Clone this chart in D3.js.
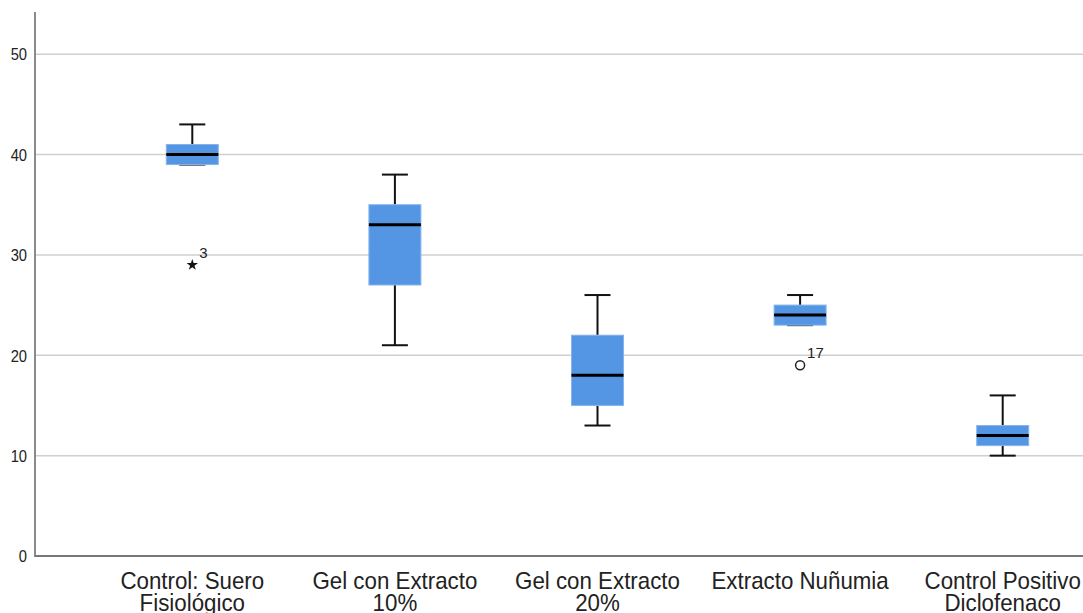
<!DOCTYPE html>
<html>
<head>
<meta charset="utf-8">
<script src="https://cdn.jsdelivr.net/npm/d3@7"></script>
<style>
  html, body { margin: 0; padding: 0; background: #fff; }
  svg { display: block; }
</style>
</head>
<body>
<svg id="chart" width="1083" height="613"></svg>
<script>
// Group names (two-line labels)
const categories = [
  ["Control: Suero", "Fisiológico"],
  ["Gel con Extracto", "10%"],
  ["Gel con Extracto", "20%"],
  ["Extracto Nuñumia"],
  ["Control Positivo", "Diclofenaco"]
];
// Five-number summaries per group
const whiskerLow  = [39, 21, 13, 23, 10];
const q1          = [39, 27, 15, 23, 11];
const medians     = [40, 33, 18, 24, 12];
const q3          = [41, 35, 22, 25, 13];
const whiskerHigh = [43, 38, 26, 26, 16];
// Flagged cases: group index, value, case id, kind
const outlierGroup = [0, 3];
const outlierValue = [29, 19];
const outlierCase  = ["3", "17"];
const outlierKind  = ["extreme", "outlier"];
const yTicks = [0, 10, 20, 30, 40, 50];

const svg = d3.select("#chart");
const plotLeft = 35, plotTop = 12, plotBottom = 556, plotRight = 1083;
const font = "Liberation Sans, Arial, sans-serif";

const y = d3.scaleLinear().domain([0, 54.2]).range([plotBottom, plotTop]);
const x = d3.scaleBand().domain(d3.range(categories.length))
  .range([91, 1104]).paddingInner(0).paddingOuter(0);
const cx = i => x(i) + x.bandwidth() / 2;

// gridlines
svg.append("g").selectAll("line").data(yTicks.filter(d => d > 0)).join("line")
  .attr("x1", plotLeft).attr("x2", plotRight)
  .attr("y1", d => y(d)).attr("y2", d => y(d))
  .attr("stroke", "#cfcfcf").attr("stroke-width", 1.5);

// y axis labels, slightly condensed
const yAxis = svg.append("g").attr("transform", `translate(${plotLeft},0)`)
  .call(d3.axisLeft(y).tickValues(yTicks).tickSize(0).tickPadding(0));
yAxis.select(".domain").remove();
yAxis.selectAll(".tick text")
  .attr("x", 0).attr("dy", "0.36em")
  .attr("transform", "translate(-8,0) scale(0.92,1)")
  .attr("font-family", font).attr("font-size", 16).attr("fill", "#222");

svg.append("line").attr("x1", plotLeft).attr("x2", plotLeft).attr("y1", plotTop).attr("y2", plotBottom + 1)
  .attr("stroke", "#8a8a8a").attr("stroke-width", 2);
svg.append("line").attr("x1", plotLeft).attr("x2", plotRight).attr("y1", plotBottom).attr("y2", plotBottom)
  .attr("stroke", "#777").attr("stroke-width", 2);

// x labels, condensed two-line text
const xl = svg.append("g");
categories.forEach((lines, i) => {
  const t = xl.append("text")
    .attr("transform", `translate(${cx(i)},589) scale(0.93,1)`)
    .attr("text-anchor", "middle")
    .attr("font-family", font)
    .attr("font-size", 24).attr("fill", "#222");
  lines.forEach((s, k) => t.append("tspan").attr("x", 0).attr("dy", k === 0 ? 0 : 22).text(s));
});

const boxW = 52, capW = 26;
const g = svg.append("g");
d3.range(categories.length).forEach(i => {
  const c = cx(i);
  // whisker stems
  g.append("line").attr("x1", c).attr("x2", c).attr("y1", y(q3[i])).attr("y2", y(whiskerHigh[i]))
    .attr("stroke", "#111").attr("stroke-width", 2);
  g.append("line").attr("x1", c).attr("x2", c).attr("y1", y(q1[i])).attr("y2", y(whiskerLow[i]))
    .attr("stroke", "#111").attr("stroke-width", 2);
  // caps
  [whiskerHigh[i], whiskerLow[i]].forEach(v => {
    g.append("line").attr("x1", c - capW / 2).attr("x2", c + capW / 2)
      .attr("y1", y(v)).attr("y2", y(v)).attr("stroke", "#111").attr("stroke-width", 2);
  });
  // box
  g.append("rect").attr("x", c - boxW / 2).attr("width", boxW)
    .attr("y", y(q3[i])).attr("height", y(q1[i]) - y(q3[i]))
    .attr("fill", "#5596e4").attr("stroke", "#86b5ee").attr("stroke-width", 1);
  // median
  g.append("line").attr("x1", c - boxW / 2).attr("x2", c + boxW / 2)
    .attr("y1", y(medians[i])).attr("y2", y(medians[i]))
    .attr("stroke", "#000").attr("stroke-width", 3);
});

// flagged cases
outlierGroup.forEach((gi, k) => {
  const c = cx(gi), py = y(outlierValue[k]);
  if (outlierKind[k] === "extreme") {
    g.append("path").attr("d", d3.symbol(d3.symbolStar, 40)())
      .attr("transform", `translate(${c},${py})`).attr("fill", "#111");
  } else {
    g.append("circle").attr("cx", c).attr("cy", py).attr("r", 4.5)
      .attr("fill", "none").attr("stroke", "#222").attr("stroke-width", 1.5);
  }
  g.append("text").attr("x", c + 7).attr("y", py - 7)
    .attr("font-family", font).attr("font-size", 15)
    .attr("fill", "#222").text(outlierCase[k]);
});
</script>
</body>
</html>
